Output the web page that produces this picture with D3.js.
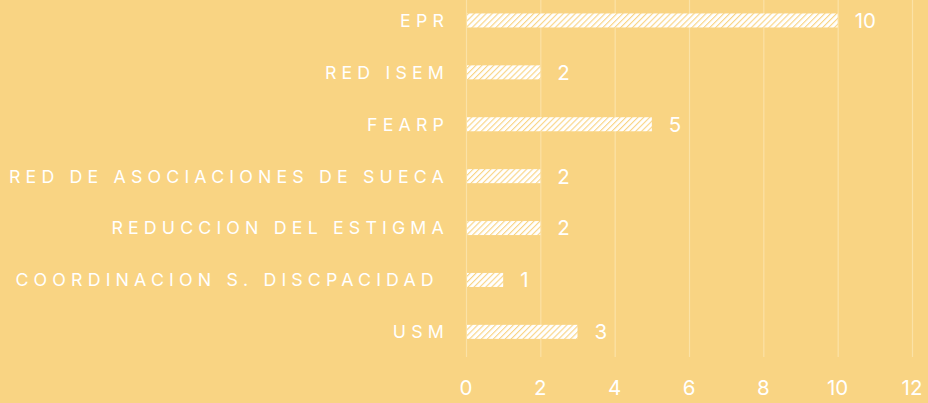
<!DOCTYPE html>
<html>
<head>
<meta charset="utf-8">
<title>Bar chart</title>
<script src="https://cdn.jsdelivr.net/npm/d3@7"></script>
<style type="text/css">
html, body {
	margin: 0;
	padding: 0;
	background: #f9d483;
}
text {
	fill: #fff;
	font-family: Inter, "Noto Sans", sans-serif;
}
</style>
</head>
<body>
	<div id="chart"></div>
	<script type="text/javascript">
var categories = ["EPR", "RED ISEM", "FEARP", "RED DE ASOCIACIONES DE SUECA", "REDUCCION DEL ESTIGMA", "COORDINACION S. DISCPACIDAD ", "USM"];
var values = [10, 2, 5, 2, 2, 1, 3];
var ticks = [0, 2, 4, 6, 8, 10, 12];

var width = 928, height = 403;

var svg = d3.select("#chart").append("svg")
	.attr("width", width)
	.attr("height", height);

/* stripe pattern for the bars */
var pat = svg.append("defs").append("pattern")
	.attr("id", "hatch")
	.attr("patternUnits", "userSpaceOnUse")
	.attr("width", 4.2)
	.attr("height", 4.2)
	.attr("patternTransform", "rotate(45)");
pat.append("rect").attr("width", 4.2).attr("height", 4.2).attr("fill", "#fff");
pat.append("line")
	.attr("x1", 0).attr("y1", 0).attr("x2", 0).attr("y2", 4.2)
	.attr("stroke", "#f9d483")
	.attr("stroke-width", 2.2);

var x = d3.scaleLinear().domain([0, 12]).range([466, 912]);
var y = d3.scaleBand().domain(categories).range([-5.5, 357.8]).paddingInner(0.73).paddingOuter(0.365);

// grid
svg.append("g").selectAll("line")
	.data(ticks)
	.enter().append("line")
	.attr("x1", function(d) { return x(d) + 0.5; })
	.attr("x2", function(d) { return x(d) + 0.5; })
	.attr("y1", 0)
	.attr("y2", 357)
	.attr("stroke", "#fbe2a6")
	.attr("stroke-width", 1.2);

svg.append("g").selectAll("text")
	.data(ticks)
	.enter().append("text")
	.attr("x", function(d) { return x(d); })
	.attr("y", 395)
	.attr("text-anchor", "middle")
	.style("font-size", "20.5px")
	.text(function(d) { return d; });

svg.append("g").selectAll("rect")
	.data(values)
	.enter().append("rect")
	.attr("x", x(0) + 1)
	.attr("y", function(d, i) { return y(categories[i]); })
	.attr("width", function(d) { return x(d) - x(0) - 1; })
	.attr("height", y.bandwidth())
	.attr("fill", "url(#hatch)");

svg.append("g").selectAll("text")
	.data(values)
	.enter().append("text")
	.attr("x", function(d) { return x(d) + 17; })
	.attr("y", function(d, i) { return y(categories[i]) + y.bandwidth() / 2; })
	.attr("dy", "0.36em")
	.style("font-size", "20.5px")
	.text(function(d) { return d; });

svg.append("g").selectAll("text")
	.data(categories)
	.enter().append("text")
	.attr("x", 449)
	.attr("y", function(d) { return y(d) + y.bandwidth() / 2; })
	.attr("dy", "0.36em")
	.attr("text-anchor", "end")
	.style("font-size", "17.8px")
	.style("letter-spacing", "5.15px")
	.style("white-space", "pre")
	.text(function(d) { return d; });
</script>
</body>
</html>
